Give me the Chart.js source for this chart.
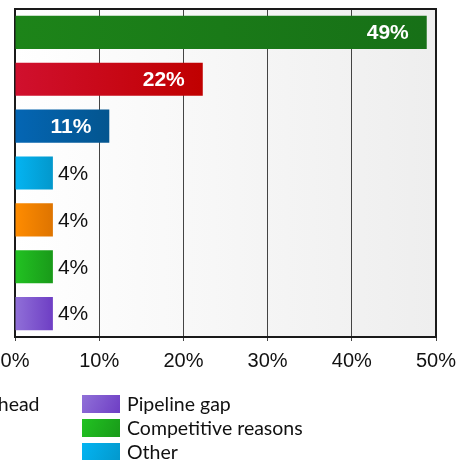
<!DOCTYPE html>
<html>
<head>
<meta charset="utf-8">
<script src="https://cdn.jsdelivr.net/npm/chart.js@4/dist/chart.umd.min.js"></script>
<style>
  html, body { margin: 0; padding: 0; background: #ffffff; overflow: hidden; }
  #wrap { position: relative; width: 458px; height: 460px; }
</style>
</head>
<body>
<div id="wrap"><canvas id="c" width="458" height="460"></canvas></div>
<script>
// ---- data ----
const categories = ["Efficacy", "Safety", "Strategic", "Other", "Overhead", "Competitive reasons", "Pipeline gap"];
const values = [48.9, 22.3, 11.2, 4.5, 4.5, 4.5, 4.5];
const valueLabels = ["49%", "22%", "11%", "4%", "4%", "4%", "4%"];
const colorStart = ["#1d8419", "#d0102e", "#0466b4", "#04b4f2", "#ff8c00", "#22c222", "#9070d8"];
const colorEnd   = ["#177017", "#c00000", "#03558f", "#0398cc", "#de7400", "#199a19", "#6e3ec4"];
const tickValues = [0, 10, 20, 30, 40, 50];
const legendColumns = [["Overhead"], ["Pipeline gap", "Competitive reasons", "Other"]];

const AXIS_FONT = "'Liberation Sans', Arial, sans-serif";
const LEGEND_FONT = "Lato, 'Open Sans', sans-serif";

function barGradient(ctx) {
  const chart = ctx.chart;
  const i = ctx.dataIndex;
  if (i === undefined) return colorEnd[0];
  if (!chart.chartArea || !chart.scales.x) return colorEnd[i];
  const xs = chart.scales.x;
  const x0 = xs.getPixelForValue(0);
  const x1 = xs.getPixelForValue(values[i]);
  const g = chart.ctx.createLinearGradient(x0, 0, Math.max(x1, x0 + 1), 0);
  g.addColorStop(0, colorStart[i]);
  g.addColorStop(1, colorEnd[i]);
  return g;
}

const plotBg = {
  id: 'plotBg',
  beforeDraw(chart) {
    const {ctx, chartArea: a} = chart;
    const g = ctx.createLinearGradient(a.left, 0, a.right, 0);
    g.addColorStop(0, '#ffffff');
    g.addColorStop(1, '#eeeeee');
    ctx.save();
    ctx.fillStyle = g;
    ctx.fillRect(a.left, a.top, a.right - a.left, a.bottom - a.top);
    ctx.restore();
  },
  beforeDatasetsDraw(chart) {
    const {ctx, chartArea: a} = chart;
    ctx.save();
    ctx.strokeStyle = '#1a1a1a';
    ctx.lineWidth = 2;
    ctx.strokeRect(a.left, a.top, a.right - a.left, a.bottom - a.top);
    ctx.restore();
  }
};

const valueLabelPlugin = {
  id: 'valueLabels',
  afterDatasetsDraw(chart) {
    const ctx = chart.ctx;
    const meta = chart.getDatasetMeta(0);
    ctx.save();
    ctx.textBaseline = 'middle';
    meta.data.forEach((bar, i) => {
      const inside = values[i] >= 10;
      if (inside) {
        ctx.font = "bold 21px " + AXIS_FONT;
        ctx.fillStyle = '#ffffff';
        ctx.textAlign = 'right';
        ctx.fillText(valueLabels[i], bar.x - 18, bar.y + 1);
      } else {
        ctx.font = "21px " + AXIS_FONT;
        ctx.fillStyle = '#111111';
        ctx.textAlign = 'left';
        ctx.fillText(valueLabels[i], bar.x + 5, bar.y + 1);
      }
    });
    ctx.restore();
  }
};

const legendPlugin = {
  id: 'gridLegend',
  afterDraw(chart) {
    const ctx = chart.ctx;
    const boxW = 38, boxH = 18, gap = 7, rowH = 24, colW = 172;
    const firstColX = 82 - colW;
    const topY = 395;
    ctx.save();
    ctx.font = "19.5px " + LEGEND_FONT;
    ctx.textBaseline = 'middle';
    ctx.textAlign = 'left';
    legendColumns.forEach((col, c) => {
      col.forEach((label, r) => {
        const i = categories.indexOf(label);
        const bx = firstColX + c * colW;
        const by = topY + r * rowH;
        const g = ctx.createLinearGradient(bx, by, bx + boxW, by + boxH);
        g.addColorStop(0, colorStart[i]);
        g.addColorStop(1, colorEnd[i]);
        ctx.fillStyle = g;
        ctx.fillRect(bx, by, boxW, boxH);
        ctx.fillStyle = '#111111';
        ctx.fillText(label, bx + boxW + gap, by + boxH / 2 + 1);
      });
    });
    ctx.restore();
  }
};

new Chart(document.getElementById('c'), {
  type: 'bar',
  data: {
    labels: categories,
    datasets: [{
      data: values,
      backgroundColor: barGradient,
      borderWidth: 0,
      barPercentage: 0.707,
      categoryPercentage: 1.0
    }]
  },
  options: {
    indexAxis: 'y',
    responsive: false,
    animation: false,
    devicePixelRatio: 1,
    layout: { padding: { top: 9, left: 15, right: 22, bottom: 0 } },
    plugins: { legend: { display: false }, tooltip: { enabled: false } },
    scales: {
      x: {
        min: 0, max: 50,
        afterBuildTicks(scale) { scale.ticks = tickValues.map(v => ({ value: v })); },
        afterFit(scale) {
          scale.height = 123;
          scale.paddingLeft = 0;
          scale.paddingRight = 0;
        },
        ticks: {
          callback: v => v + '%',
          font: { family: AXIS_FONT, size: 20 },
          color: '#111111',
          padding: 8,
          maxRotation: 0
        },
        grid: { color: '#444444', lineWidth: 1, tickLength: 4 },
        border: { display: false }
      },
      y: { display: false }
    }
  },
  plugins: [plotBg, valueLabelPlugin, legendPlugin]
});
</script>
</body>
</html>
